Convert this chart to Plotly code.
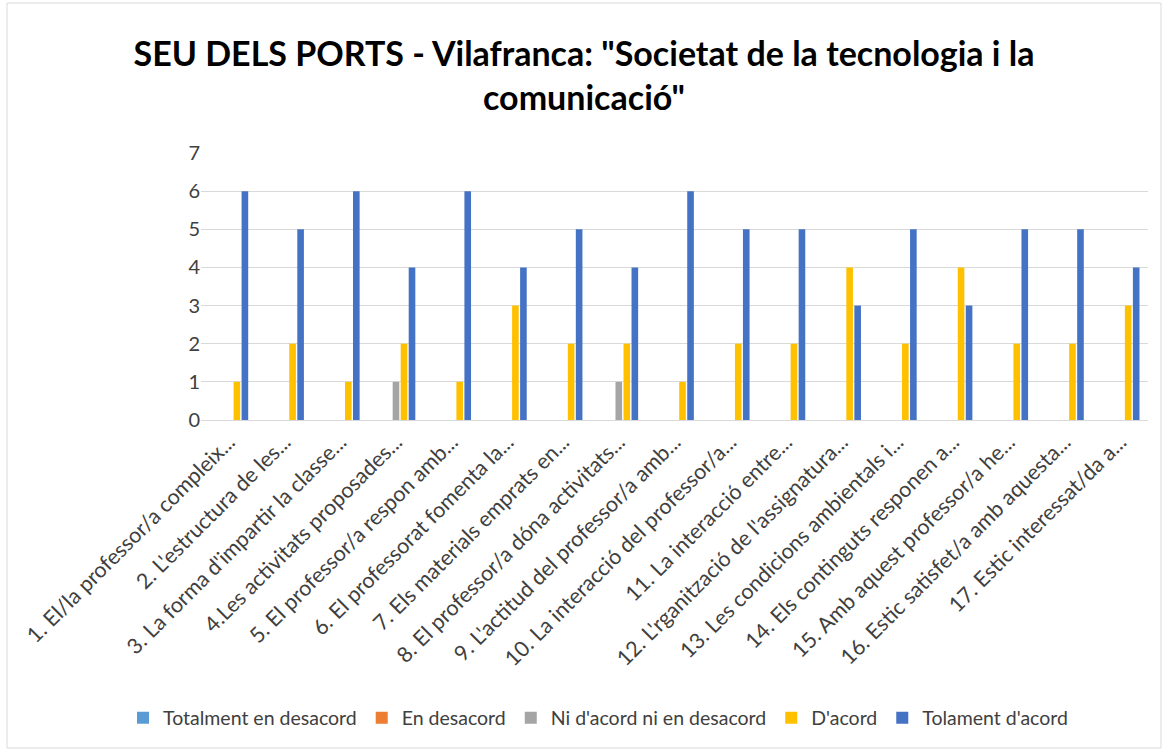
import plotly.graph_objects as go

categories = [
    "1. El/la professor/a compleix...",
    "2. L'estructura de les...",
    "3. La forma d'impartir la classe...",
    "4.Les activitats proposades...",
    "5. El professor/a respon amb...",
    "6. El professorat fomenta la...",
    "7. Els materials emprats en...",
    "8. El professor/a dóna activitats...",
    "9. L'actitud del professor/a amb...",
    "10. La interacció del professor/a...",
    "11. La interacció entre...",
    "12. L'rganització de l'assignatura...",
    "13. Les condicions ambientals i...",
    "14. Els continguts responen a...",
    "15. Amb aquest professor/a he...",
    "16. Estic satisfet/a amb aquesta...",
    "17. Estic interessat/da a...",
]

totalment_desacord = [0] * 17
en_desacord = [0] * 17
ni_acord = [0, 0, 0, 1, 0, 0, 0, 1, 0, 0, 0, 0, 0, 0, 0, 0, 0]
dacord = [1, 2, 1, 2, 1, 3, 2, 2, 1, 2, 2, 4, 2, 4, 2, 2, 3]
tolament_acord = [6, 5, 6, 4, 6, 4, 5, 4, 6, 5, 5, 3, 5, 3, 5, 5, 4]

series = [
    ("Totalment en desacord", totalment_desacord, "#5B9BD5"),
    ("En desacord", en_desacord, "#ED7D31"),
    ("Ni d'acord ni en desacord", ni_acord, "#A5A5A5"),
    ("D'acord", dacord, "#FFC000"),
    ("Tolament d'acord", tolament_acord, "#4472C4"),
]

FONT = "Lato"
TXT = "#404040"
fig = go.Figure()
for name, vals, col in series:
    fig.add_trace(go.Bar(x=categories, y=vals, name=name, marker_color=col,
                         marker_line_width=0))

# plot area in pixels
L, R, T, B = 201, 1148, 153, 420
W, H = R - L, B - T

fig.update_layout(
    width=1168, height=751,
    margin=dict(l=L, r=1168 - R, t=T, b=751 - B),
    paper_bgcolor="white", plot_bgcolor="white",
    barmode="group", bargap=0.28, bargroupgap=0.175,
    font=dict(family=FONT, color=TXT, size=18),
    title=dict(
        text="SEU DELS PORTS - Vilafranca: \"Societat de la tecnologia i la<br>comunicació\"",
        x=0.5, xanchor="center", y=1 - 66 / 751, yanchor="middle",
        font=dict(family=FONT, size=34, color="black", weight="bold"),
    ),
    xaxis=dict(tickangle=-45, showgrid=False, linecolor="#d9d9d9", linewidth=1,
               ticks="", tickfont=dict(size=21.5, color=TXT), automargin=False),
    yaxis=dict(range=[0, 7], dtick=1, gridcolor="#d9d9d9", gridwidth=1,
               zeroline=False, showline=False, ticks="", automargin=False,
               tickfont=dict(size=20, color=TXT)),
    legend=dict(orientation="h", x=(598 - L) / W, xanchor="center",
                y=(B - 718) / H, yanchor="middle", itemwidth=30,
                font=dict(size=19.5, color=TXT), traceorder="normal"),
    shapes=[dict(type="rect", xref="paper", yref="paper",
                 x0=(7 - L) / W, x1=(1161 - L) / W,
                 y0=(B - 748) / H, y1=(B - 3) / H,
                 line=dict(color="#d9d9d9", width=1))],
)

fig.write_html("out.html", config={"displayModeBar": False},
               post_script="document.body.style.margin='0';document.body.style.overflow='hidden';")
